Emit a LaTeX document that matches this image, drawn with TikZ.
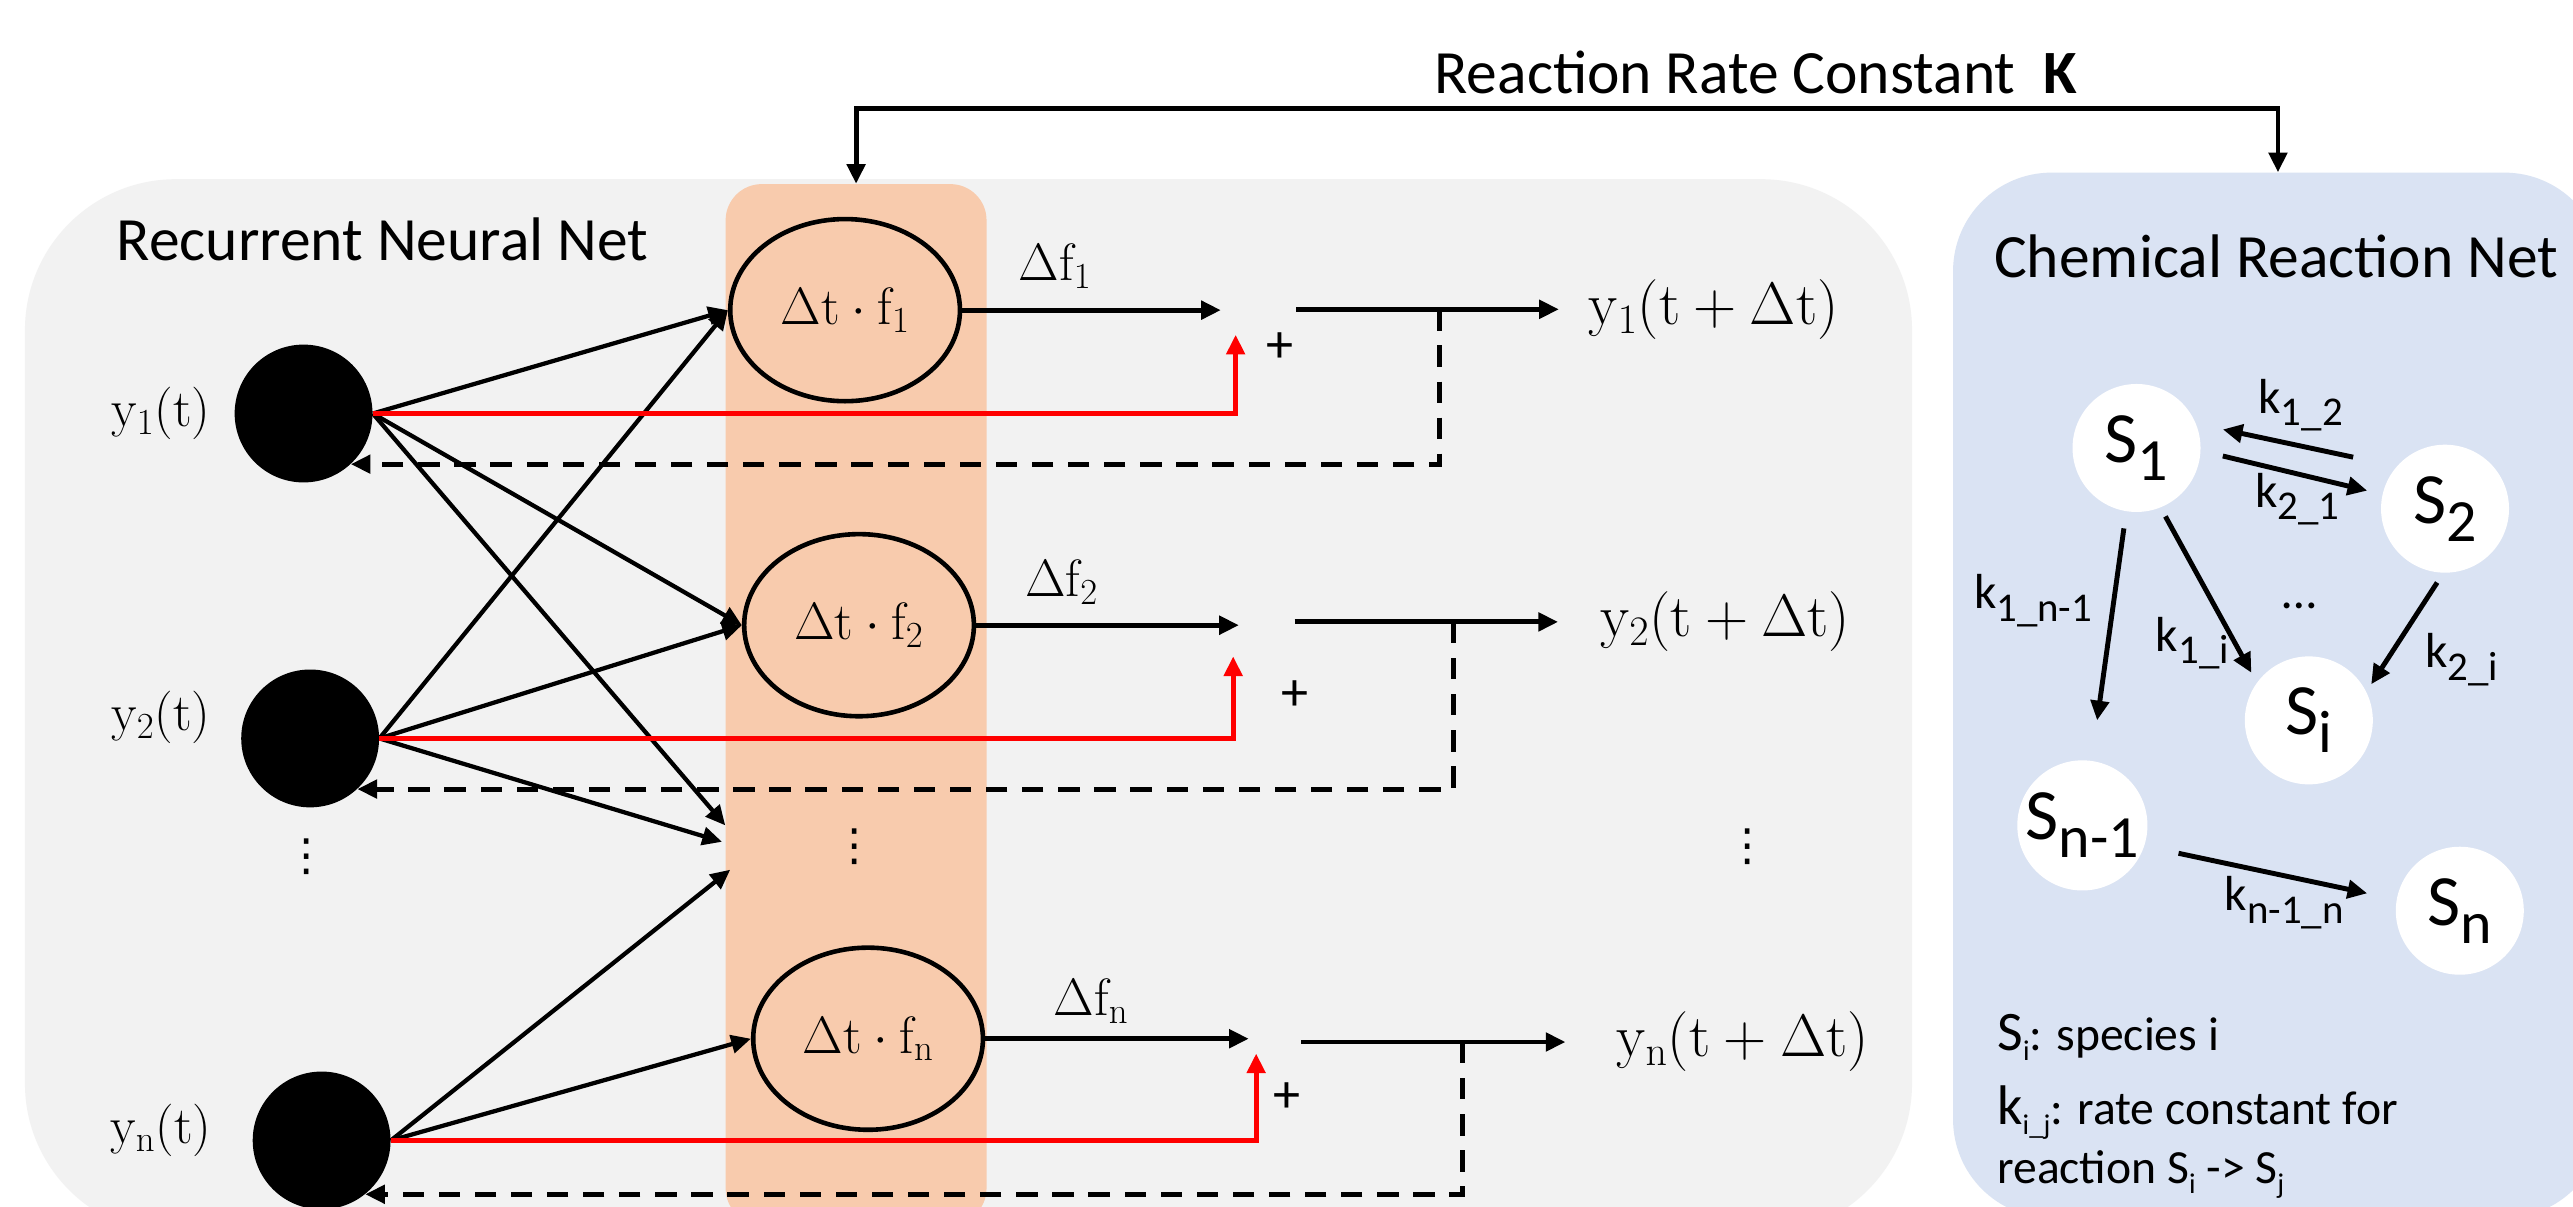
\RequirePackage{fix-cm}
\documentclass[tikz,border=0pt]{standalone}
\usepackage[no-math]{fontspec}
\setmainfont{Carlito}
\newfontfamily\dejavu{DejaVu Sans}
\usepackage{graphicx}
\usetikzlibrary{arrows.meta,shapes.geometric,calc}
\definecolor{rnngray}{HTML}{F2F2F2}
\definecolor{orng}{HTML}{F8CBAD}
\definecolor{crnblue}{HTML}{DAE3F3}
\newcommand\bsub[1]{\raisebox{-0.25em}{\scalebox{0.83}{#1}}}
\newcommand\lsub[1]{\raisebox{-0.22em}{\scalebox{0.6}{#1}}}
\begin{document}
\begin{tikzpicture}[x=1pt,y=-1pt,
  arr/.style={line width=2.6pt,-{Triangle[length=12pt,width=11pt]}},
  thk/.style={arr,line width=3pt},
  redarr/.style={thk,red},
  dsh/.style={thk,dash pattern=on 13pt off 9pt},
  panel/.style={inner sep=0pt,anchor=north west},
  ynode/.style={circle,fill=black,minimum size=84pt,inner sep=0pt},
  fnode/.style={ellipse,draw,line width=2.8pt,minimum width=140pt,minimum height=111pt,inner sep=0pt,font=\fontsize{32}{36}\selectfont},
  snode/.style={circle,fill=white,minimum size=78pt,inner sep=0pt,font=\fontsize{44}{48}\selectfont},
  mlbl/.style={inner sep=0pt,font=\fontsize{32}{36}\selectfont},
  olbl/.style={inner sep=0pt,anchor=west,font=\fontsize{36.5}{40}\selectfont},
  title/.style={inner sep=0pt,anchor=base west,font=\fontsize{37.5}{42}\selectfont},
  klbl/.style={inner sep=0pt,font=\fontsize{30}{34}\selectfont},
  plus/.style={inner sep=0pt,font=\fontsize{33}{36}\selectfont},
  vdts/.style={inner sep=0pt,font=\dejavu\fontsize{27}{28}\selectfont},
  legend/.style={inner sep=0pt,anchor=base west,font=\fontsize{29}{34}\selectfont},
]
\clip (0,0) rectangle (1568,735);
\fill[white] (0,0) rectangle (1568,735);

% panels
\node[panel,fill=rnngray,rounded corners=92pt,minimum width=1150pt,minimum height=643pt] (rnn) at (15,109) {};
\node[panel,fill=crnblue,rounded corners=60pt,minimum width=396pt,minimum height=637pt] (crn) at (1190,105) {};
\node[panel,fill=orng,rounded corners=22pt,minimum width=159pt,minimum height=634pt] (col) at (442,112) {};

% titles
\node[title] (rnnt) at (71,158.5) {Recurrent Neural Net};
\node[title] (crnt) at (1215,169) {Chemical Reaction Net};
\node[title] (rrk) at (874,57) {Reaction Rate Constant\ \ \textbf{K}};

% top connector
\coordinate (kt) at (955,66);
\draw[thk] (kt) -| (col.north);
\draw[thk] (kt) -| (crn.north);

% input neurons
\node[ynode] (y1) at (185,252) {};
\node[ynode] (y2) at (189,450) {};
\node[ynode] (yn) at (196,695) {};
\node[mlbl] (ly1) at (98,252) {$\mathrm{y_1(t)}$};
\node[mlbl] (ly2) at (98,437) {$\mathrm{y_2(t)}$};
\node[mlbl] (lyn) at (98,689) {$\mathrm{y_n(t)}$};
\node[vdts] (ldots) at (187,522) {⋮};

% f nodes
\node[fnode] (f1) at (515,189) {$\mathrm{\Delta t\cdot f_1}$};
\node[fnode] (f2) at (523.5,381) {$\mathrm{\Delta t\cdot f_2}$};
\node[fnode] (fn) at (529,633) {$\mathrm{\Delta t\cdot f_n}$};
\node[vdts] (mdots) at (521,516) {⋮};
\coordinate (d1) at (442,503);
\coordinate (d2) at (440,513);
\coordinate (d3) at (445,530);

% input arrows
\draw[arr] (y1.east) -- (f1.west);
\draw[arr] (y1.east) -- (f2.west);
\draw[arr] (y1.east) -- (d1);
\draw[arr] (y2.east) -- (f1.west);
\draw[arr] (y2.east) -- (f2.west);
\draw[arr] (y2.east) -- (d2);
\draw[arr] (yn.east) -- (d3);
\draw[arr] (yn.east) -- (fn.west);

% delta f arrows
\coordinate (a1) at (744,189);
\coordinate (a2) at (755,381);
\coordinate (a3) at (761,633);
\draw[thk] (f1.east) -- (a1);
\draw[thk] (f2.east) -- (a2);
\draw[thk] (fn.east) -- (a3);
\node[mlbl] (df1) at (643,162) {$\mathrm{\Delta f_1}$};
\node[mlbl] (df2) at (647,355) {$\mathrm{\Delta f_2}$};
\node[mlbl] (dfn) at (665,610) {$\mathrm{\Delta f_n}$};

% red skip connections
\coordinate (r1) at (753,204);
\coordinate (r2) at (751.5,400);
\coordinate (r3) at (765.5,642);
\draw[redarr] (y1.east) -| (r1);
\draw[redarr] (y2.east) -| (r2);
\draw[redarr] (yn.east) -| (r3);
\node[plus] (p1) at (780,212) {+};
\node[plus] (p2) at (789,424) {+};
\node[plus] (p3) at (784,669) {+};

% outputs
\node[olbl] (Y1) at (968,188.5) {$\mathrm{y_1(t+\Delta t)}$};
\node[olbl] (Y2) at (975,379) {$\mathrm{y_2(t+\Delta t)}$};
\node[olbl] (Yn) at (985,635) {$\mathrm{y_n(t+\Delta t)}$};
\node[vdts] (rdots) at (1065,516) {⋮};
\coordinate (o1) at (790,188.5);
\coordinate (o2) at (789,379);
\coordinate (o3) at (793,635);
\draw[thk,shorten >=18pt] (o1) -- (Y1.west);
\draw[thk,shorten >=25.5pt] (o2) -- (Y2.west);
\draw[thk,shorten >=31pt] (o3) -- (Yn.west);

% recurrent feedback (dashed)
\coordinate (t1) at (877.5,188.5);
\coordinate (t2) at (886,379);
\coordinate (t3) at (891.5,635);
\draw[dsh] (t1) -- (t1 |- y1.-47.6) -- (y1.-47.6);
\draw[dsh] (t2) -- (t2 |- y2.-47.6) -- (y2.-47.6);
\draw[dsh] (t3) -- (t3 |- yn.-51.8) -- (yn.-51.8);

% chemical reaction net
\node[snode] (S1) at (1302,273) {S\bsub{1}};
\node[snode] (S2) at (1490,310) {S\bsub{2}};
\node[snode] (Si) at (1407,439) {S\bsub{i}};
\node[snode] (Sm) at (1269,503) {S\bsub{n-1}};
\node[snode] (Sn) at (1499,555) {S\bsub{n}};

\coordinate (c12a) at (1434,278.6);  \coordinate (c12b) at (1354.6,261.7);
\coordinate (c21a) at (1354.6,277.9); \coordinate (c21b) at (1442.6,299);
\coordinate (c1ma) at (1294.3,322);  \coordinate (c1mb) at (1278,439);
\coordinate (c1ia) at (1319.6,314.7); \coordinate (c1ib) at (1372,410);
\coordinate (c2ia) at (1485.2,355);  \coordinate (c2ib) at (1445,417);
\coordinate (cmna) at (1327.6,520);  \coordinate (cmnb) at (1442.6,544.4);
\draw[thk] (c12a) -- (c12b);
\draw[thk] (c21a) -- (c21b);
\draw[thk] (c1ma) -- (c1mb);
\draw[thk] (c1ia) -- (c1ib);
\draw[thk] (c2ia) -- (c2ib);
\draw[thk] (cmna) -- (cmnb);

\node[klbl] (k12) at (1402,247) {k\bsub{1\_2}};
\node[klbl] (k21) at (1400,304) {k\bsub{2\_1}};
\node[klbl] (k1m) at (1239,366) {k\bsub{1\_n-1}};
\node[klbl] (k1i) at (1336,392) {k\bsub{1\_i}};
\node[klbl] (cdots) at (1401,369) {…};
\node[klbl] (k2i) at (1500,402) {k\bsub{2\_i}};
\node[klbl] (kmn) at (1392,550) {k\bsub{n-1\_n}};

% legend
\node[legend] (lg1) at (1217,640) {{\fontsize{34}{34}\selectfont S}\lsub{i}: species i};
\node[legend] (lg2) at (1217,685) {{\fontsize{34}{34}\selectfont k}\lsub{i\_j}: rate constant for};
\node[legend] (lg3) at (1217,721) {reaction S\lsub{i} -> S\lsub{j}};
\end{tikzpicture}
\end{document}
